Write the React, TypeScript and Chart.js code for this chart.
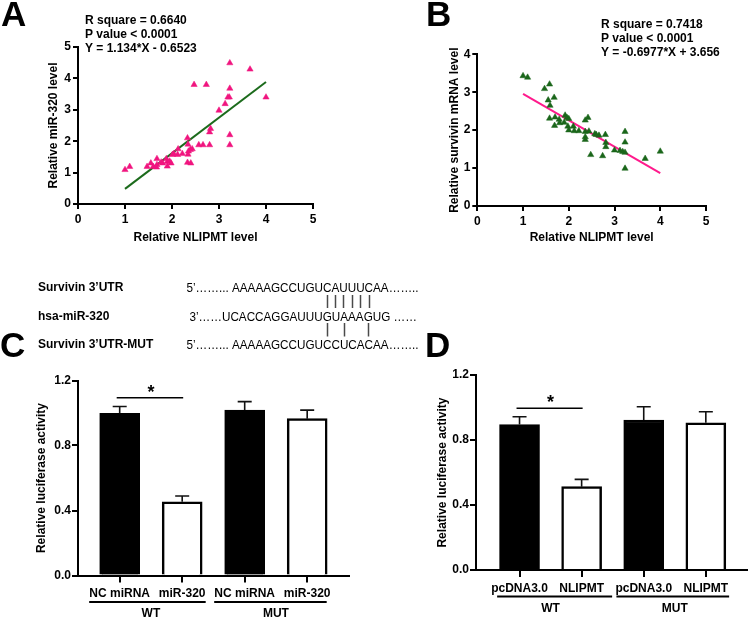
import React, { useEffect, useRef } from "react";
import { Chart, registerables } from "chart.js";
Chart.register(...registerables);

const FONT = "'Liberation Sans', Arial, Helvetica, sans-serif";

// ---------- Panel A data ----------
const aX = [1.0, 1.1, 1.47, 1.55, 1.6, 1.67, 1.68, 1.68, 1.77, 1.8, 1.88, 1.9, 1.9, 1.95, 1.98, 2.01, 2.04, 2.12, 2.13, 2.22, 2.33, 2.34, 2.34, 2.35, 2.39, 2.43, 2.33, 2.4, 2.47, 2.57, 2.66, 2.73, 2.8, 2.8, 2.82, 3.0, 3.13, 3.19, 3.22, 3.23, 3.23, 3.23, 3.23, 3.66, 4.0];
const aY = [1.09, 1.19, 1.19, 1.3, 1.19, 1.17, 1.44, 1.25, 1.33, 1.3, 1.44, 1.35, 1.2, 1.36, 1.3, 1.57, 1.6, 1.57, 1.75, 1.6, 2.1, 1.9, 1.58, 1.68, 1.73, 1.75, 1.32, 1.3, 3.8, 1.88, 1.88, 3.8, 1.88, 2.29, 2.4, 2.98, 3.19, 3.4, 3.4, 3.68, 4.49, 2.2, 1.88, 4.29, 3.4];
const aFitX = [1, 4];
const aFitY = [0.482, 3.884];
const aStats = ["R square = 0.6640", "P value < 0.0001", "Y = 1.134*X - 0.6523"];
const aXTicks = [0, 1, 2, 3, 4, 5];
const aYTicks = [0, 1, 2, 3, 4, 5];

// ---------- Panel B data ----------
const bX = [1.0, 1.1, 1.47, 1.58, 1.68, 1.55, 1.59, 1.58, 1.7, 1.69, 1.79, 1.8, 1.92, 1.96, 2.0, 1.9, 1.98, 2.0, 2.1, 2.12, 2.22, 2.36, 2.42, 2.36, 2.36, 2.36, 2.44, 2.57, 2.6, 2.66, 2.8, 2.81, 2.81, 2.48, 2.74, 3.0, 3.12, 3.18, 3.23, 3.23, 3.23, 3.23, 3.67, 4.0];
const bY = [3.43, 3.39, 3.09, 3.21, 2.86, 2.79, 2.65, 2.31, 2.34, 2.12, 2.28, 2.19, 2.39, 2.33, 2.3, 2.2, 2.1, 2.0, 2.1, 1.98, 1.98, 2.26, 2.33, 1.96, 1.82, 1.75, 1.97, 1.9, 1.88, 1.86, 1.88, 1.67, 1.56, 1.35, 1.32, 1.47, 1.46, 1.43, 1.41, 1.68, 1.96, 0.99, 1.25, 1.44];
const bFitX = [1, 4];
const bFitY = [2.958, 0.865];
const bStats = ["R square = 0.7418", "P value < 0.0001", "Y = -0.6977*X + 3.656"];
const bXTicks = [0, 1, 2, 3, 4, 5];
const bYTicks = [0, 1, 2, 3, 4];

// ---------- Panel C data ----------
const cLabels = ["NC miRNA", "miR-320", "NC miRNA", "miR-320"];
const cValues = [0.998, 0.454, 1.018, 0.965];
const cErrors = [0.042, 0.035, 0.052, 0.053];
const cGroups = ["WT", "MUT"];

// ---------- Panel D data ----------
const dLabels = ["pcDNA3.0", "NLIPMT", "pcDNA3.0", "NLIPMT"];
const dValues = [0.895, 0.513, 0.923, 0.906];
const dErrors = [0.048, 0.045, 0.082, 0.068];
const dGroups = ["WT", "MUT"];

const barFills = ["#000000", "#ffffff", "#000000", "#ffffff"];
const barYTicks = [0, 0.4, 0.8, 1.2];
const barXTicks = [0, 1, 2, 3];

// ---------- Sequence block ----------
const seqNames = ["Survivin 3\u2019UTR", "hsa-miR-320", "Survivin 3\u2019UTR-MUT"];
const seqPrefix = ["5\u2019\u2026\u2026... ", "3\u2019\u2026\u2026", "5\u2019\u2026\u2026... "];
const seqCore = ["AAAAAGCCUGUCAUUUCAA", "UCACCAGGAUUUGUAAAGUG", "AAAAAGCCUGUCCUCACAA"];
const seqSuffix = ["\u2026\u2026..", " \u2026\u2026", "\u2026\u2026.."];

const bold = (size: number) => ({ family: FONT, size, weight: "bold" as const, lineHeight: 1.2 });

function scatterConfig(p: any) {
  return {
    type: "scatter",
    data: {
      datasets: [
        {
          data: p.xs.map((x: number, i: number) => ({ x, y: p.ys[i] })),
          pointStyle: "triangle",
          pointRadius: 3.6,
          backgroundColor: p.pointColor,
          borderColor: p.pointColor,
          borderWidth: 0.5,
          order: 1,
        },
        {
          data: p.fitX.map((x: number, i: number) => ({ x, y: p.fitY[i] })),
          showLine: true,
          pointRadius: 0,
          borderColor: p.lineColor,
          borderWidth: 2,
          order: 2,
        },
      ],
    },
    options: {
      responsive: false,
      animation: false,
      events: [],
      layout: { padding: p.padding },
      plugins: { legend: { display: false }, tooltip: { enabled: false } },
      scales: {
        x: {
          type: "linear",
          min: p.xTicks[0],
          max: p.xTicks[p.xTicks.length - 1],
          afterBuildTicks: (s: any) => { s.ticks = p.xTicks.map((v: number) => ({ value: v })); },
          afterFit: (s: any) => { s.height = p.xAxisH; },
          grid: { display: true, drawOnChartArea: false, drawTicks: true, tickLength: 5, color: "#000", lineWidth: 2 },
          border: { display: true, color: "#000", width: 2 },
          ticks: { color: "#000", font: bold(12), padding: 3, maxRotation: 0, callback: (v: any) => String(v) },
          title: { display: true, text: p.xTitle, color: "#000", font: bold(12), padding: { top: 0, bottom: p.xTitlePad } },
        },
        y: {
          type: "linear",
          min: p.yTicks[0],
          max: p.yTicks[p.yTicks.length - 1],
          afterBuildTicks: (s: any) => { s.ticks = p.yTicks.map((v: number) => ({ value: v })); },
          afterFit: (s: any) => { s.width = p.yAxisW; },
          grid: { display: true, drawOnChartArea: false, drawTicks: true, tickLength: 5, color: "#000", lineWidth: 2 },
          border: { display: true, color: "#000", width: 2 },
          ticks: { color: "#000", font: bold(12), padding: 2, callback: (v: any) => String(v) },
          title: { display: true, text: p.yTitle, color: "#000", font: bold(12), padding: { top: p.yTitlePad, bottom: 0 } },
        },
      },
    },
  };
}

function barConfig(p: any) {
  const extras = {
    id: "barExtras",
    afterDraw(chart: any) {
      const ctx = chart.ctx;
      const xs = chart.scales.x;
      const ys = chart.scales.y;
      const axisY = chart.chartArea.bottom;
      ctx.save();
      // error bars
      ctx.strokeStyle = "#111";
      ctx.lineWidth = 1.6;
      p.values.forEach((v: number, i: number) => {
        const x = xs.getPixelForValue(i);
        const y0 = ys.getPixelForValue(v);
        const y1 = ys.getPixelForValue(v + p.errors[i]);
        ctx.beginPath();
        ctx.moveTo(x, y0);
        ctx.lineTo(x, y1);
        ctx.moveTo(x - 7, y1);
        ctx.lineTo(x + 7, y1);
        ctx.stroke();
      });
      // significance
      const sy = ys.getPixelForValue(p.sigY);
      ctx.strokeStyle = "#000";
      ctx.lineWidth = 1.6;
      ctx.beginPath();
      ctx.moveTo(xs.getPixelForValue(0) - 3, sy);
      ctx.lineTo(xs.getPixelForValue(1) + 1, sy);
      ctx.stroke();
      ctx.fillStyle = "#000";
      ctx.font = `bold 18px ${FONT}`;
      ctx.textAlign = "center";
      ctx.textBaseline = "alphabetic";
      ctx.fillText("*", (xs.getPixelForValue(0) + xs.getPixelForValue(1)) / 2, sy - 10.5 + 10.4);
      // group lines and labels
      ctx.lineWidth = 1.8;
      ctx.font = `bold 12px ${FONT}`;
      ctx.textBaseline = "middle";
      p.groups.forEach((g: string, gi: number) => {
        const xa = xs.getPixelForValue(gi * 2);
        const xb = xs.getPixelForValue(gi * 2 + 1);
        const span = p.groupSpans[gi];
        ctx.beginPath();
        ctx.moveTo(xa + span[0], axisY + 26.5);
        ctx.lineTo(xb + span[1], axisY + 26.5);
        ctx.stroke();
        ctx.fillText(g, (xa + xb) / 2, axisY + 38.5);
      });
      ctx.restore();
    },
  };
  return {
    type: "bar",
    data: {
      datasets: [
        {
          data: p.values.map((v: number, i: number) => ({ x: i, y: v })),
          backgroundColor: barFills,
          borderColor: "#000",
          borderWidth: 2.5,
          barThickness: 40,
          borderSkipped: "start",
        },
      ],
    },
    plugins: [extras],
    options: {
      responsive: false,
      animation: false,
      events: [],
      layout: { padding: p.padding },
      plugins: { legend: { display: false }, tooltip: { enabled: false } },
      scales: {
        x: {
          type: "linear",
          offset: false,
          min: p.xMin,
          max: p.xMax,
          afterBuildTicks: (s: any) => { s.ticks = barXTicks.map((v) => ({ value: v })); },
          afterFit: (s: any) => { s.height = p.xAxisH; },
          grid: { display: true, offset: false, drawOnChartArea: false, drawTicks: true, tickLength: 7, color: "#000", lineWidth: 2 },
          border: { display: true, color: "#000", width: 2 },
          ticks: { color: "#000", font: bold(12), padding: 4, maxRotation: 0, autoSkip: false, callback: (v: any) => p.labels[Math.round(v)] ?? "" },
        },
        y: {
          type: "linear",
          min: 0,
          max: 1.2,
          afterBuildTicks: (s: any) => { s.ticks = barYTicks.map((v) => ({ value: v })); },
          afterFit: (s: any) => { s.width = p.yAxisW; },
          grid: { display: true, drawOnChartArea: false, drawTicks: true, tickLength: 6, color: "#000", lineWidth: 2 },
          border: { display: true, color: "#000", width: 2 },
          ticks: { color: "#000", font: bold(12), padding: 1, callback: (v: any) => Number(v).toFixed(1) },
          title: { display: true, text: "Relative luciferase activity", color: "#000", font: bold(12), padding: { top: p.yTitlePad, bottom: 0 } },
        },
      },
    },
  };
}

function ChartBox({ left, top, width, height, make }: any) {
  const ref = useRef<HTMLCanvasElement>(null);
  useEffect(() => {
    const chart = new Chart(ref.current as HTMLCanvasElement, make());
    return () => chart.destroy();
  }, []);
  return (
    <canvas
      ref={ref}
      width={width}
      height={height}
      style={{ position: "absolute", left, top, width, height, display: "block" }}
    />
  );
}

function drawOverlay(ctx: CanvasRenderingContext2D) {
  ctx.clearRect(0, 0, 750, 621);
  ctx.fillStyle = "#000";
  ctx.textAlign = "left";
  ctx.textBaseline = "middle";
  // panel letters
  ctx.font = `bold 35px ${FONT}`;
  ctx.fillText("A", 1, 16);
  ctx.fillText("B", 426, 16);
  ctx.fillText("C", 0, 347);
  ctx.fillText("D", 425, 347);
  // regression statistics
  ctx.font = `bold 12px ${FONT}`;
  aStats.forEach((t, i) => ctx.fillText(t, 85, 21 + i * 14));
  bStats.forEach((t, i) => ctx.fillText(t, 601, 25 + i * 14));
  // sequence names
  const rowY = [288, 317, 345];
  seqNames.forEach((t, i) => ctx.fillText(t, 38, rowY[i]));
  // sequences (slightly condensed)
  const SX = 0.9;
  ctx.font = `13px ${FONT}`;
  const w = (s: string) => ctx.measureText(s).width * SX;
  const draw = (text: string, x: number, y: number, align: CanvasTextAlign) => {
    ctx.save();
    ctx.translate(x, y);
    ctx.scale(SX, 1);
    ctx.textAlign = align;
    ctx.fillText(text, 0, 0);
    ctx.restore();
  };
  const X1 = 232;
  const center = (s: string, i: number, start: number) => start + w(s.slice(0, i)) + w(s[i]) / 2;
  const pairX = center(seqCore[0], 11, X1);
  const X2 = X1 + pairX - center(seqCore[1], 12, X1);
  const starts = [X1, X2, X1];
  seqCore.forEach((s, i) => {
    draw(seqPrefix[i], starts[i], rowY[i], "right");
    draw(s + seqSuffix[i], starts[i], rowY[i], "left");
  });
  // pairing bars
  ctx.strokeStyle = "#4a4a4a";
  ctx.lineWidth = 1.5;
  for (let k = 0; k < 6; k++) {
    const x = Math.round(center(seqCore[0], 11 + k, X1)) + 0.5;
    ctx.beginPath();
    ctx.moveTo(x, 295);
    ctx.lineTo(x, 308);
    ctx.stroke();
  }
  [0, 2, 5].forEach((k) => {
    const x = Math.round(center(seqCore[1], 12 + k, X2)) + 0.5;
    ctx.beginPath();
    ctx.moveTo(x, 323);
    ctx.lineTo(x, 336.5);
    ctx.stroke();
  });
}

export default function App() {
  const overlay = useRef<HTMLCanvasElement>(null);
  useEffect(() => {
    const ctx = overlay.current!.getContext("2d")!;
    drawOverlay(ctx);
  }, []);

  const makeA = () =>
    scatterConfig({
      xs: aX, ys: aY, fitX: aFitX, fitY: aFitY, xTicks: aXTicks, yTicks: aYTicks,
      pointColor: "#f0157f", lineColor: "#1c6b1c",
      padding: { left: 0, top: 47, right: 57, bottom: 0 },
      xAxisH: 46, yAxisW: 78, xTitlePad: 5.3, yTitlePad: 46.8,
      xTitle: "Relative NLIPMT level", yTitle: "Relative miR-320 level",
    });
  const makeB = () =>
    scatterConfig({
      xs: bX, ys: bY, fitX: bFitX, fitY: bFitY, xTicks: bXTicks, yTicks: bYTicks,
      pointColor: "#1a661a", lineColor: "#ff1a8c",
      padding: { left: 0, top: 54.3, right: 44, bottom: 0 },
      xAxisH: 44, yAxisW: 107.3, xTitlePad: 5.3, yTitlePad: 77.8,
      xTitle: "Relative NLIPMT level", yTitle: "Relative survivin mRNA level",
    });
  const makeC = () =>
    barConfig({
      labels: cLabels, values: cValues, errors: cErrors, groups: cGroups,
      groupSpans: [[-30.5, 23.5], [-30.5, 19.5]],
      sigY: 1.094,
      xMin: -0.667, xMax: 3.669,
      padding: { left: 0, top: 18.5, right: 26, bottom: 0 },
      xAxisH: 259 - 213.5, yAxisW: 78, yTitlePad: 34.8,
    });
  const makeD = () =>
    barConfig({
      labels: dLabels, values: dValues, errors: dErrors, groups: dGroups,
      groupSpans: [[-22.4, 30.5], [-27.3, 23.3]],
      sigY: 0.995,
      xMin: -0.701, xMax: 3.663,
      padding: { left: 0, top: 13, right: 3, bottom: 0 },
      xAxisH: 259 - 208, yAxisW: 101, yTitlePad: 60.8,
    });

  return (
    <div style={{ position: "fixed", left: 0, top: 0, width: 750, height: 621, background: "#fff", overflow: "hidden" }}>
      <ChartBox left={0} top={0} width={370} height={250} make={makeA} />
      <ChartBox left={370} top={0} width={380} height={250} make={makeB} />
      <ChartBox left={0} top={362} width={375} height={259} make={makeC} />
      <ChartBox left={375} top={362} width={375} height={259} make={makeD} />
      <canvas
        ref={overlay}
        width={750}
        height={621}
        style={{ position: "absolute", left: 0, top: 0, width: 750, height: 621, pointerEvents: "none" }}
      />
    </div>
  );
}
